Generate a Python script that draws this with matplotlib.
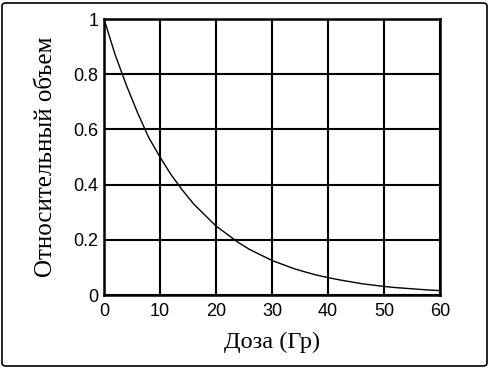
import matplotlib.pyplot as plt
from matplotlib.patches import FancyBboxPatch

# доза (Гр) и относительный объем
doza = [0, 2, 4, 6, 8, 10, 12, 14, 16, 18, 20, 22, 24, 26, 28, 30,
        32, 34, 36, 38, 40, 42, 44, 46, 48, 50, 52, 54, 56, 58, 60]
obem = [1.0, 0.87, 0.76, 0.66, 0.57, 0.50, 0.435, 0.38, 0.33, 0.29, 0.25,
        0.22, 0.19, 0.165, 0.145, 0.125, 0.11, 0.095, 0.083, 0.072, 0.063,
        0.055, 0.048, 0.041, 0.036, 0.031, 0.027, 0.024, 0.021, 0.018, 0.016]
xticks = [0, 10, 20, 30, 40, 50, 60]
yticks = [0, 0.2, 0.4, 0.6, 0.8, 1]
yticklabels = ['0', '0.2', '0.4', '0.6', '0.8', '1']

fig = plt.figure(figsize=(4.91, 3.68), dpi=100)
ax = fig.add_axes([104 / 491, 73 / 368, 336 / 491, 276 / 368])

ax.plot(doza, obem, color='black', linewidth=1.0)

ax.set_xlim(0, 60)
ax.set_ylim(0, 1)
ax.set_xticks(xticks)
ax.set_yticks(yticks)
ax.set_yticklabels(yticklabels)
ax.grid(True, color='black', linewidth=1.5)
for s in ax.spines.values():
    s.set_linewidth(1.8)
ax.tick_params(length=0, labelsize=13)
ax.tick_params(axis='x', pad=6)
ax.tick_params(axis='y', pad=4)
for lbl in ax.get_xticklabels() + ax.get_yticklabels():
    lbl.set_family('Liberation Sans')

ax.set_xlabel('Доза (Гр)', family='Liberation Serif', fontsize=17.5, labelpad=8)
ax.set_ylabel('Относительный объем', family='Liberation Serif', fontsize=18, labelpad=12)

# рамка вокруг всего рисунка
frame = FancyBboxPatch((2 / 491, 2 / 368), 485 / 491, 363 / 368,
                       boxstyle='round,pad=0,rounding_size=0.008',
                       transform=fig.transFigure, fill=False,
                       edgecolor='black', linewidth=1.2)
fig.patches.append(frame)

fig.savefig('out.png', dpi=100)
